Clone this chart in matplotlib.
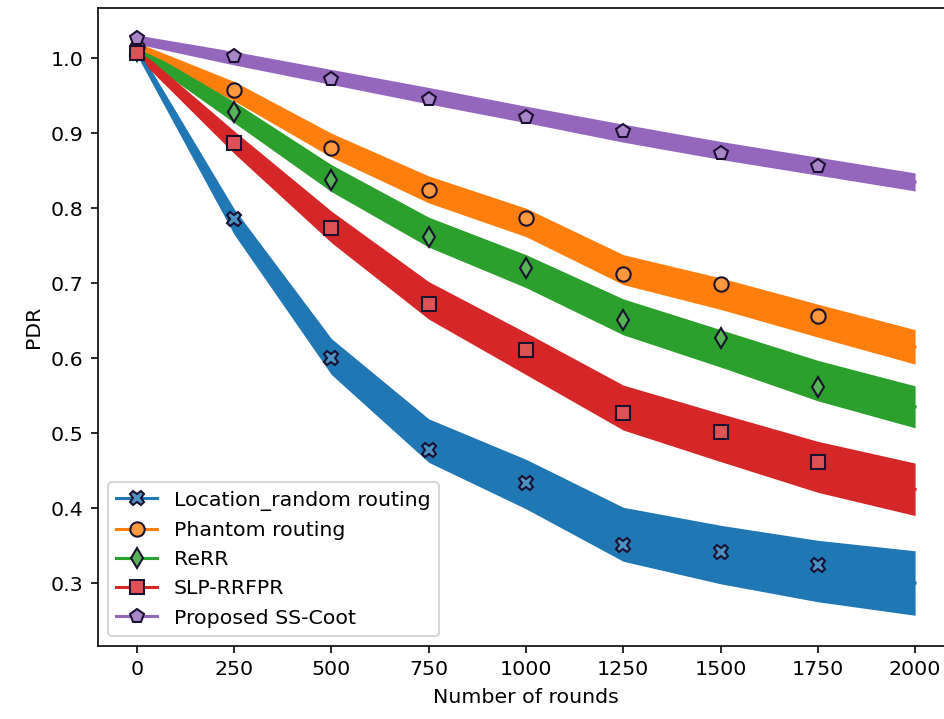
import numpy as np
import matplotlib
matplotlib.use("Agg")
import matplotlib.pyplot as plt
from matplotlib.colors import to_rgb
from matplotlib.lines import Line2D

# band centres read at every 250 rounds (0 .. 2000)
rounds = [0, 250, 500, 750, 1000, 1250, 1500, 1750, 2000]
# markers sit on the noisy curve at 0 .. 1750
mark_rounds = [0, 250, 500, 750, 1000, 1250, 1500, 1750]

labels = ["Location_random routing", "Phantom routing", "ReRR",
          "SLP-RRFPR", "Proposed SS-Coot"]

pdr_location = [1.010, 0.782, 0.602, 0.490, 0.432, 0.365, 0.338, 0.316, 0.300]
pdr_phantom = [1.015, 0.956, 0.884, 0.825, 0.781, 0.718, 0.686, 0.650, 0.615]
pdr_rerr = [1.012, 0.928, 0.840, 0.768, 0.716, 0.655, 0.613, 0.570, 0.535]
pdr_slp = [1.008, 0.888, 0.775, 0.677, 0.606, 0.534, 0.494, 0.455, 0.425]
pdr_sscoot = [1.025, 1.000, 0.975, 0.950, 0.925, 0.900, 0.877, 0.856, 0.835]

# half width of the noisy band around each curve
spread_location = [0.006, 0.017, 0.024, 0.029, 0.033, 0.036, 0.039, 0.041, 0.043]
spread_phantom = [0.006, 0.013, 0.016, 0.018, 0.019, 0.020, 0.021, 0.022, 0.023]
spread_rerr = [0.006, 0.014, 0.018, 0.020, 0.022, 0.024, 0.025, 0.027, 0.028]
spread_slp = [0.006, 0.015, 0.021, 0.025, 0.028, 0.030, 0.032, 0.034, 0.035]
spread_sscoot = [0.006, 0.009, 0.010, 0.011, 0.011, 0.012, 0.012, 0.012, 0.012]

# marker values
mark_location = [1.010, 0.785, 0.600, 0.477, 0.433, 0.351, 0.341, 0.324]
mark_phantom = [1.015, 0.957, 0.880, 0.824, 0.787, 0.712, 0.699, 0.656]
mark_rerr = [1.010, 0.928, 0.838, 0.761, 0.720, 0.651, 0.627, 0.561]
mark_slp = [1.007, 0.887, 0.773, 0.672, 0.611, 0.527, 0.501, 0.461]
mark_sscoot = [1.027, 1.003, 0.972, 0.945, 0.922, 0.903, 0.873, 0.856]

series = [pdr_location, pdr_phantom, pdr_rerr, pdr_slp, pdr_sscoot]
spreads = [spread_location, spread_phantom, spread_rerr, spread_slp, spread_sscoot]
marks = [mark_location, mark_phantom, mark_rerr, mark_slp, mark_sscoot]
colors = ["#1f77b4", "#ff7f0e", "#2ca02c", "#d62728", "#9467bd"]
markers = ["X", "o", "d", "s", "p"]

fig = plt.figure(figsize=(6.4, 4.875), dpi=147.5)
ax = fig.add_axes([0.1038, 0.1015, 0.9068, 0.8873])

x = np.array(rounds)
handles = []
for vals, spr, mv, c, m, lab in zip(series, spreads, marks, colors, markers, labels):
    vals = np.array(vals)
    spr = np.array(spr)
    face = tuple(0.8 * np.array(to_rgb(c)) + 0.2)
    ax.fill_between(x, vals - spr, vals + spr, color=c, lw=0)
    ax.plot(x, vals, color=c, lw=1.5)
    ax.plot(mark_rounds, mv, ls="none", marker=m, markerfacecolor=face,
            markeredgecolor="#1a1030", markersize=7)
    handles.append(Line2D([], [], color=c, lw=1.5, marker=m, markerfacecolor=face,
                          markeredgecolor="#1a1030", markersize=7, label=lab))

ax.set_xlim(-100, 2100)
ax.set_ylim(0.216, 1.067)
ax.set_xticks(rounds)
ax.set_yticks([0.3, 0.4, 0.5, 0.6, 0.7, 0.8, 0.9, 1.0])
ax.set_xlabel("Number of rounds")
ax.set_ylabel("PDR")
ax.legend(handles=handles, loc="lower left")

fig.savefig("out.png", dpi=147.5)
